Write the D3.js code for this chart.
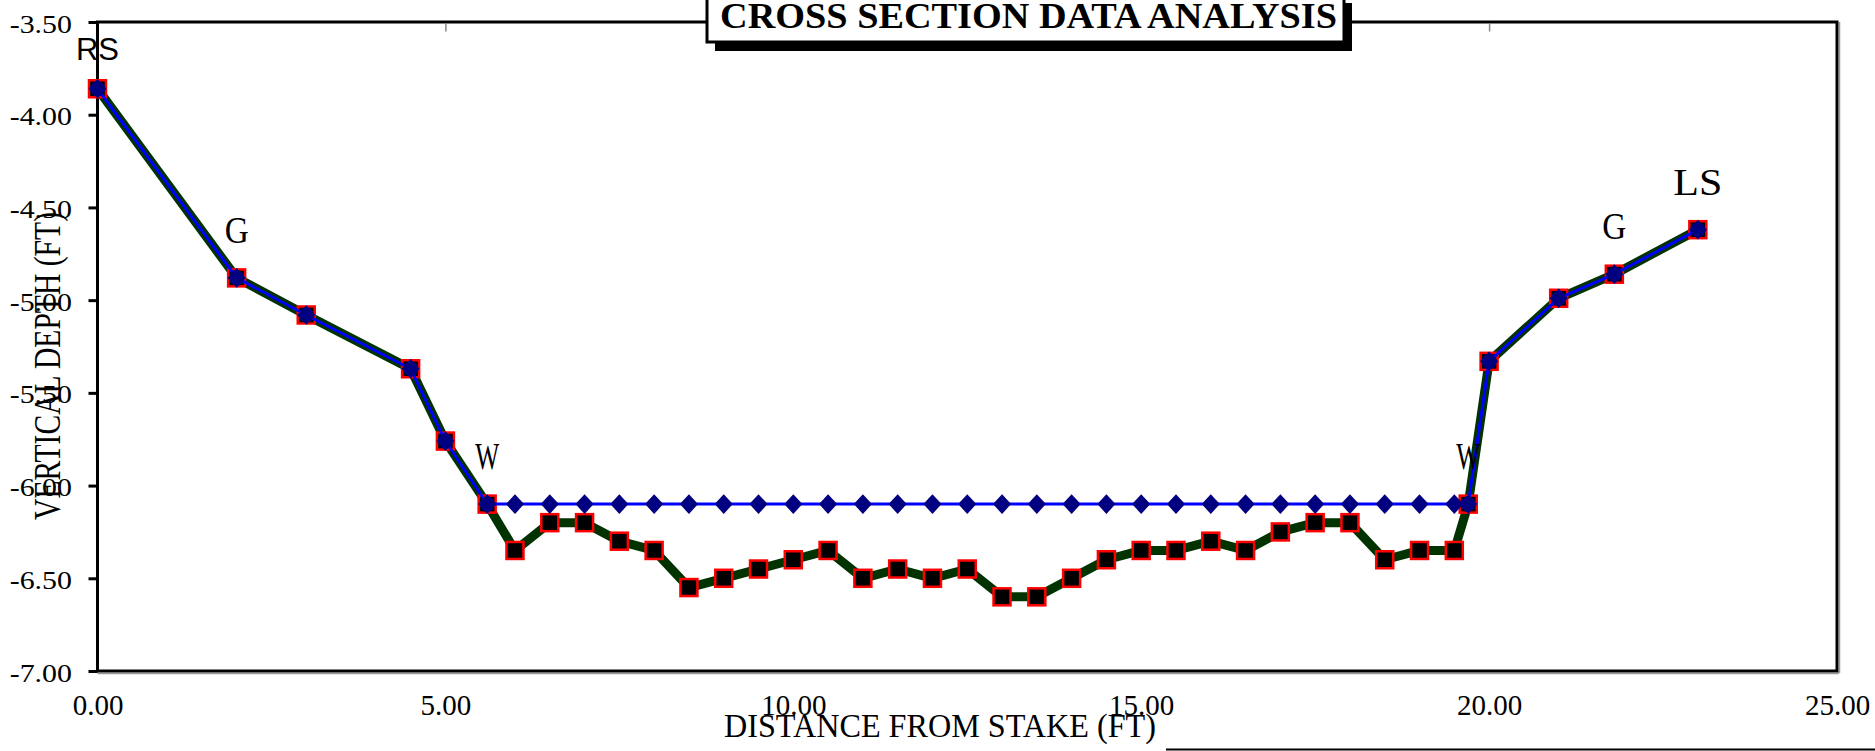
<!DOCTYPE html>
<html>
<head>
<meta charset="utf-8">
<script src="https://cdn.jsdelivr.net/npm/d3@7"></script>
<style>
  body { margin: 0; background: #fff; }
  svg { display: block; }
</style>
</head>
<body>
<div id="chart"></div>
<script>
// Ground profile (thick green line, red/black squares)
const groundX = [0, 2, 3, 4.5, 5, 5.6, 6, 6.5, 7, 7.5, 8, 8.5, 9, 9.5, 10, 10.5, 11, 11.5, 12, 12.5,
  13, 13.5, 14, 14.5, 15, 15.5, 16, 16.5, 17, 17.5, 18, 18.5, 19, 19.5, 19.7, 20, 21, 21.8, 23];
const groundY = [-3.86, -4.88, -5.08, -5.37, -5.76, -6.10, -6.35, -6.20, -6.20, -6.30, -6.35, -6.55, -6.50, -6.45, -6.40, -6.35, -6.50, -6.45, -6.50, -6.45,
  -6.60, -6.60, -6.50, -6.40, -6.35, -6.35, -6.30, -6.35, -6.25, -6.20, -6.20, -6.40, -6.35, -6.35, -6.10, -5.33, -4.99, -4.86, -4.62];

// Water surface / bank line (thin blue line, navy diamonds)
const waterX = [0, 2, 3, 4.5, 5, 5.6, 6, 6.5, 7, 7.5, 8, 8.5, 9, 9.5, 10, 10.5, 11, 11.5, 12, 12.5,
  13, 13.5, 14, 14.5, 15, 15.5, 16, 16.5, 17, 17.5, 18, 18.5, 19, 19.5, 19.7, 20, 21, 21.8, 23];
const waterY = [-3.86, -4.88, -5.08, -5.37, -5.76, -6.10, -6.10, -6.10, -6.10, -6.10, -6.10, -6.10, -6.10, -6.10, -6.10, -6.10, -6.10, -6.10, -6.10, -6.10,
  -6.10, -6.10, -6.10, -6.10, -6.10, -6.10, -6.10, -6.10, -6.10, -6.10, -6.10, -6.10, -6.10, -6.10, -6.10, -5.33, -4.99, -4.86, -4.62];

// Point annotations
const labelText = ['RS', 'G', 'W', 'W', 'G', 'LS'];
const labelX = [0, 2, 5.6, 19.7, 21.8, 23];

const xTicks = [0, 5, 10, 15, 20, 25];
const yTicks = [-3.5, -4, -4.5, -5, -5.5, -6, -6.5, -7];

const title = 'CROSS SECTION DATA ANALYSIS';
const xTitle = 'DISTANCE FROM STAKE (FT)';
const yTitle = 'VERTICAL DEPTH (FT)';

const width = 1875, height = 751;
const plotLeft = 97.5, plotRight = 1837, plotTop = 22, plotBottom = 671;
const serif = '"Liberation Serif", "Times New Roman", serif';

const svg = d3.select('#chart').append('svg')
    .attr('width', width)
    .attr('height', height);

const x = d3.scaleLinear().domain([0, 25]).range([plotLeft, plotRight]);
const y = d3.scaleLinear().domain([-7, -3.5]).range([plotBottom, plotTop]);

// frame (gray under-lines first, then black border)
svg.append('line').attr('x1', plotLeft).attr('x2', plotRight + 2).attr('y1', plotBottom + 2.5).attr('y2', plotBottom + 2.5)
    .attr('stroke', '#999').attr('stroke-width', 1.5);
svg.append('line').attr('x1', plotRight + 2.5).attr('x2', plotRight + 2.5).attr('y1', plotTop).attr('y2', plotBottom + 2)
    .attr('stroke', '#999').attr('stroke-width', 1.5);
svg.append('rect')
    .attr('x', plotLeft).attr('y', plotTop)
    .attr('width', plotRight - plotLeft).attr('height', plotBottom - plotTop)
    .attr('fill', 'none').attr('stroke', '#000').attr('stroke-width', 3);

// y axis: outward ticks, stretched labels
const yAxis = svg.append('g')
    .attr('transform', `translate(${plotLeft},0)`)
    .call(d3.axisLeft(y).tickValues(yTicks).tickSize(9).tickSizeOuter(0).tickFormat(d => d.toFixed(2)));
yAxis.select('.domain').remove();
yAxis.selectAll('line').attr('stroke', '#000').attr('stroke-width', 3);
yAxis.selectAll('text')
    .attr('x', -22.2).attr('dy', 10)
    .attr('transform', 'scale(1.15,1)')
    .style('font-family', serif).style('font-size', '26px').attr('fill', '#000');

// x axis labels only
const xAxis = svg.append('g')
    .attr('transform', `translate(0,${plotBottom})`)
    .call(d3.axisBottom(x).tickValues(xTicks).tickSize(0).tickFormat(d => d.toFixed(2)));
xAxis.select('.domain').remove();
xAxis.selectAll('text')
    .attr('y', 44).attr('dy', 0)
    .style('font-family', serif).style('font-size', '29px').attr('fill', '#000');

// small gray ticks inside top border
const topTicks = svg.append('g')
    .attr('transform', `translate(0,${plotTop + 1.5})`)
    .call(d3.axisTop(x).tickValues(xTicks.slice(1, -1)).tickSize(-8).tickFormat(''));
topTicks.select('.domain').remove();
topTicks.selectAll('line').attr('stroke', '#888').attr('stroke-width', 1.5);

// ground line
const ground = groundX.map((d, i) => ({ x: d, y: groundY[i] }));
const water = waterX.map((d, i) => ({ x: d, y: waterY[i] }));
const line = d3.line().x(d => x(d.x)).y(d => y(d.y));

svg.append('path')
    .datum(ground)
    .attr('d', line)
    .attr('fill', 'none')
    .attr('stroke', '#003300')
    .attr('stroke-width', 9)
    .attr('stroke-linejoin', 'round');

svg.append('g').selectAll('rect')
    .data(ground)
    .join('rect')
    .attr('x', d => x(d.x) - 8.5)
    .attr('y', d => y(d.y) - 8.5)
    .attr('width', 17).attr('height', 17)
    .attr('fill', '#000')
    .attr('stroke', '#ff0000')
    .attr('stroke-width', 2.5);

// water / bank line
svg.append('path')
    .datum(water)
    .attr('d', line)
    .attr('fill', 'none')
    .attr('stroke', '#0000ff')
    .attr('stroke-width', 3);

const diamond = d3.symbol().type(d3.symbolSquare).size(165);
svg.append('g').selectAll('path')
    .data(water)
    .join('path')
    .attr('transform', d => `translate(${x(d.x)},${y(d.y)}) scale(1,1.08) rotate(45)`)
    .attr('d', diamond)
    .attr('fill', '#000080');

// bank points (water meets ground) look rounder
const onBank = water.filter(w => ground.some(g => g.x === w.x && g.y === w.y));
svg.append('g').selectAll('circle')
    .data(onBank)
    .join('circle')
    .attr('cx', d => x(d.x))
    .attr('cy', d => y(d.y))
    .attr('r', 7.5)
    .attr('fill', '#000080');

// point labels
const labelWidth = { G: 24, W: 24, LS: 49 };
labelText.forEach((t, i) => {
    const gx = labelX[i];
    const gy = ground.find(g => g.x === gx).y;
    const txt = svg.append('text')
        .attr('x', x(gx))
        .attr('text-anchor', 'middle')
        .attr('fill', '#000')
        .text(t);
    if (t === 'RS') {
        txt.attr('y', y(gy) - 28.5)
            .style('font-family', '"Liberation Sans", Arial, sans-serif')
            .style('font-size', '31px');
    } else {
        txt.attr('y', y(gy) - 35)
            .style('font-family', serif)
            .style('font-size', '38px')
            .attr('textLength', labelWidth[t])
            .attr('lengthAdjust', 'spacingAndGlyphs');
    }
});

// axis titles
svg.append('text')
    .attr('x', 940).attr('y', 737)
    .attr('text-anchor', 'middle')
    .attr('textLength', 432).attr('lengthAdjust', 'spacingAndGlyphs')
    .style('font-family', serif).style('font-size', '33px')
    .text(xTitle);

svg.append('text')
    .attr('transform', 'translate(60,366) rotate(-90)')
    .attr('text-anchor', 'middle')
    .attr('textLength', 308).attr('lengthAdjust', 'spacingAndGlyphs')
    .style('font-family', serif).style('font-size', '37px')
    .text(yTitle);

// title box with drop shadow
svg.append('rect')
    .attr('x', 715).attr('y', 3).attr('width', 637).attr('height', 48)
    .attr('fill', '#000');
svg.append('rect')
    .attr('x', 707).attr('y', -6).attr('width', 637).attr('height', 48)
    .attr('fill', '#fff').attr('stroke', '#000').attr('stroke-width', 3);
svg.append('text')
    .attr('x', 720).attr('y', 28)
    .attr('textLength', 617).attr('lengthAdjust', 'spacingAndGlyphs')
    .style('font-family', serif).style('font-size', '36px').style('font-weight', 'bold')
    .text(title);

// stray line at bottom right (cut-off box edge)
svg.append('line')
    .attr('x1', 1166).attr('x2', width).attr('y1', 749.5).attr('y2', 749.5)
    .attr('stroke', '#000').attr('stroke-width', 2);
</script>
</body>
</html>
